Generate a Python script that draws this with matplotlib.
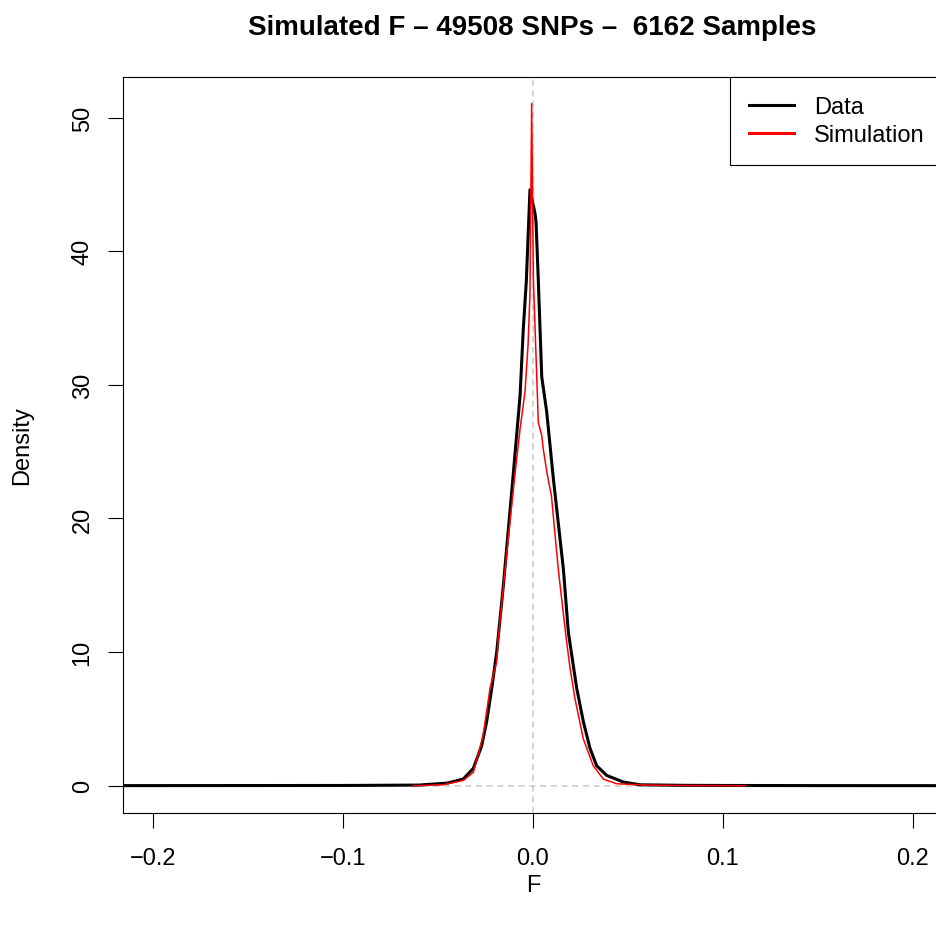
import matplotlib
matplotlib.use("Agg")
import matplotlib.pyplot as plt

plt.rcParams['font.family'] = ['Liberation Sans', 'DejaVu Sans']

data_f = [-0.30, -0.10, -0.06, -0.045, -0.0367, -0.0314, -0.027, -0.0244,
          -0.0217, -0.0191, -0.0156, -0.0104, -0.0068, -0.0051, -0.0035,
          -0.0016, 0.0011, 0.0016, 0.0028, 0.0037, 0.0046, 0.0072, 0.0107,
          0.0160, 0.0186, 0.0212, 0.0230, 0.0265, 0.0300, 0.0335, 0.0388,
          0.0475, 0.0563, 0.08, 0.10, 0.15, 0.30]
data_d = [0.0, 0.02, 0.05, 0.2, 0.5, 1.3, 3.0, 4.8,
          7.3, 10.0, 15.0, 23.3, 29.2, 34.2, 37.8,
          44.6, 42.8, 42.2, 37.8, 34.2, 30.6, 28.0, 23.0,
          16.2, 11.5, 9.0, 7.3, 4.8, 2.8, 1.5, 0.77,
          0.28, 0.07, 0.03, 0.02, 0.01, 0.0]

# density curve of the simulated F values
sim_f = [-0.063, -0.0474, -0.0367, -0.0314, -0.0262, -0.0226, -0.0191,
         -0.0183, -0.0147, -0.0095, -0.0068, -0.0042, -0.0026, -0.0016,
         -0.0007, 0.0002, 0.0020, 0.0028, 0.0046, 0.0054, 0.0075, 0.0097,
         0.0133, 0.0175, 0.0195, 0.0221, 0.0265, 0.0317, 0.0370, 0.0440,
         0.060, 0.080, 0.112]
sim_d = [0.0, 0.07, 0.4, 1.0, 3.8, 7.3, 9.3,
         11.0, 16.2, 23.3, 26.7, 29.5, 33.0, 36.8,
         51.05, 37.9, 30.5, 27.2, 26.2, 25.2, 23.3, 21.7,
         16.2, 11.0, 8.8, 6.5, 3.5, 1.5, 0.5, 0.15,
         0.05, 0.02, 0.0]

x_ticks = [-0.2, -0.1, 0.0, 0.1, 0.2]
y_ticks = [0, 10, 20, 30, 40, 50]

W, H = 937, 928
fig = plt.figure(figsize=(W / 100, H / 100), dpi=100)
left_px, right_px, top_px, bottom_px = 122.6, 943.4, 78, 814
ax = fig.add_axes([left_px / W, 1 - bottom_px / H,
                   (right_px - left_px) / W, (bottom_px - top_px) / H])

ax.axvline(0, color='#c8c8c8', lw=1.1, dashes=(4, 3), zorder=1)
ax.axhline(0, color='#c8c8c8', lw=1.1, dashes=(4, 3), zorder=1)

ax.plot(data_f, data_d, color='black', lw=2.2, label='Data', zorder=2)
ax.plot(sim_f, sim_d, color='red', lw=1.1, label='Simulation', zorder=3)

ax.set_xlim(-0.216, 0.216)
ax.set_ylim(-2.04, 53.04)

ax.set_xticks(x_ticks)
ax.set_xticklabels(['\u22120.2', '\u22120.1', '0.0', '0.1', '0.2'])
ax.set_yticks(y_ticks)
ax.set_yticklabels([str(v) for v in y_ticks], rotation=90, va='center')
ax.tick_params(axis='both', labelsize=17, length=10.8, width=0.8,
               direction='out', color='black')
ax.tick_params(axis='x', pad=14)
ax.tick_params(axis='y', pad=10)
for s in ax.spines.values():
    s.set_linewidth(0.8)

leg = ax.legend(loc='upper right', bbox_to_anchor=(1, 1), borderaxespad=0,
                fontsize=17, frameon=True, fancybox=False, framealpha=1,
                edgecolor='black', handlelength=1.9, handletextpad=0.85,
                labelspacing=0.25, borderpad=0.8)
leg.get_frame().set_linewidth(0.8)
for line in leg.get_lines():
    line.set_linewidth(2.2)

fig.text(532 / W, 1 - 28 / H, 'Simulated F \u2013 49508 SNPs \u2013  6162 Samples',
         ha='center', va='center', fontsize=20, fontweight='bold')
fig.text(533 / W, 1 - 886 / H, 'F', ha='center', va='center', fontsize=17)
fig.text(22 / W, 1 - 446 / H, 'Density', ha='center', va='center',
         fontsize=17, rotation=90)

fig.savefig('out.png', dpi=100)
